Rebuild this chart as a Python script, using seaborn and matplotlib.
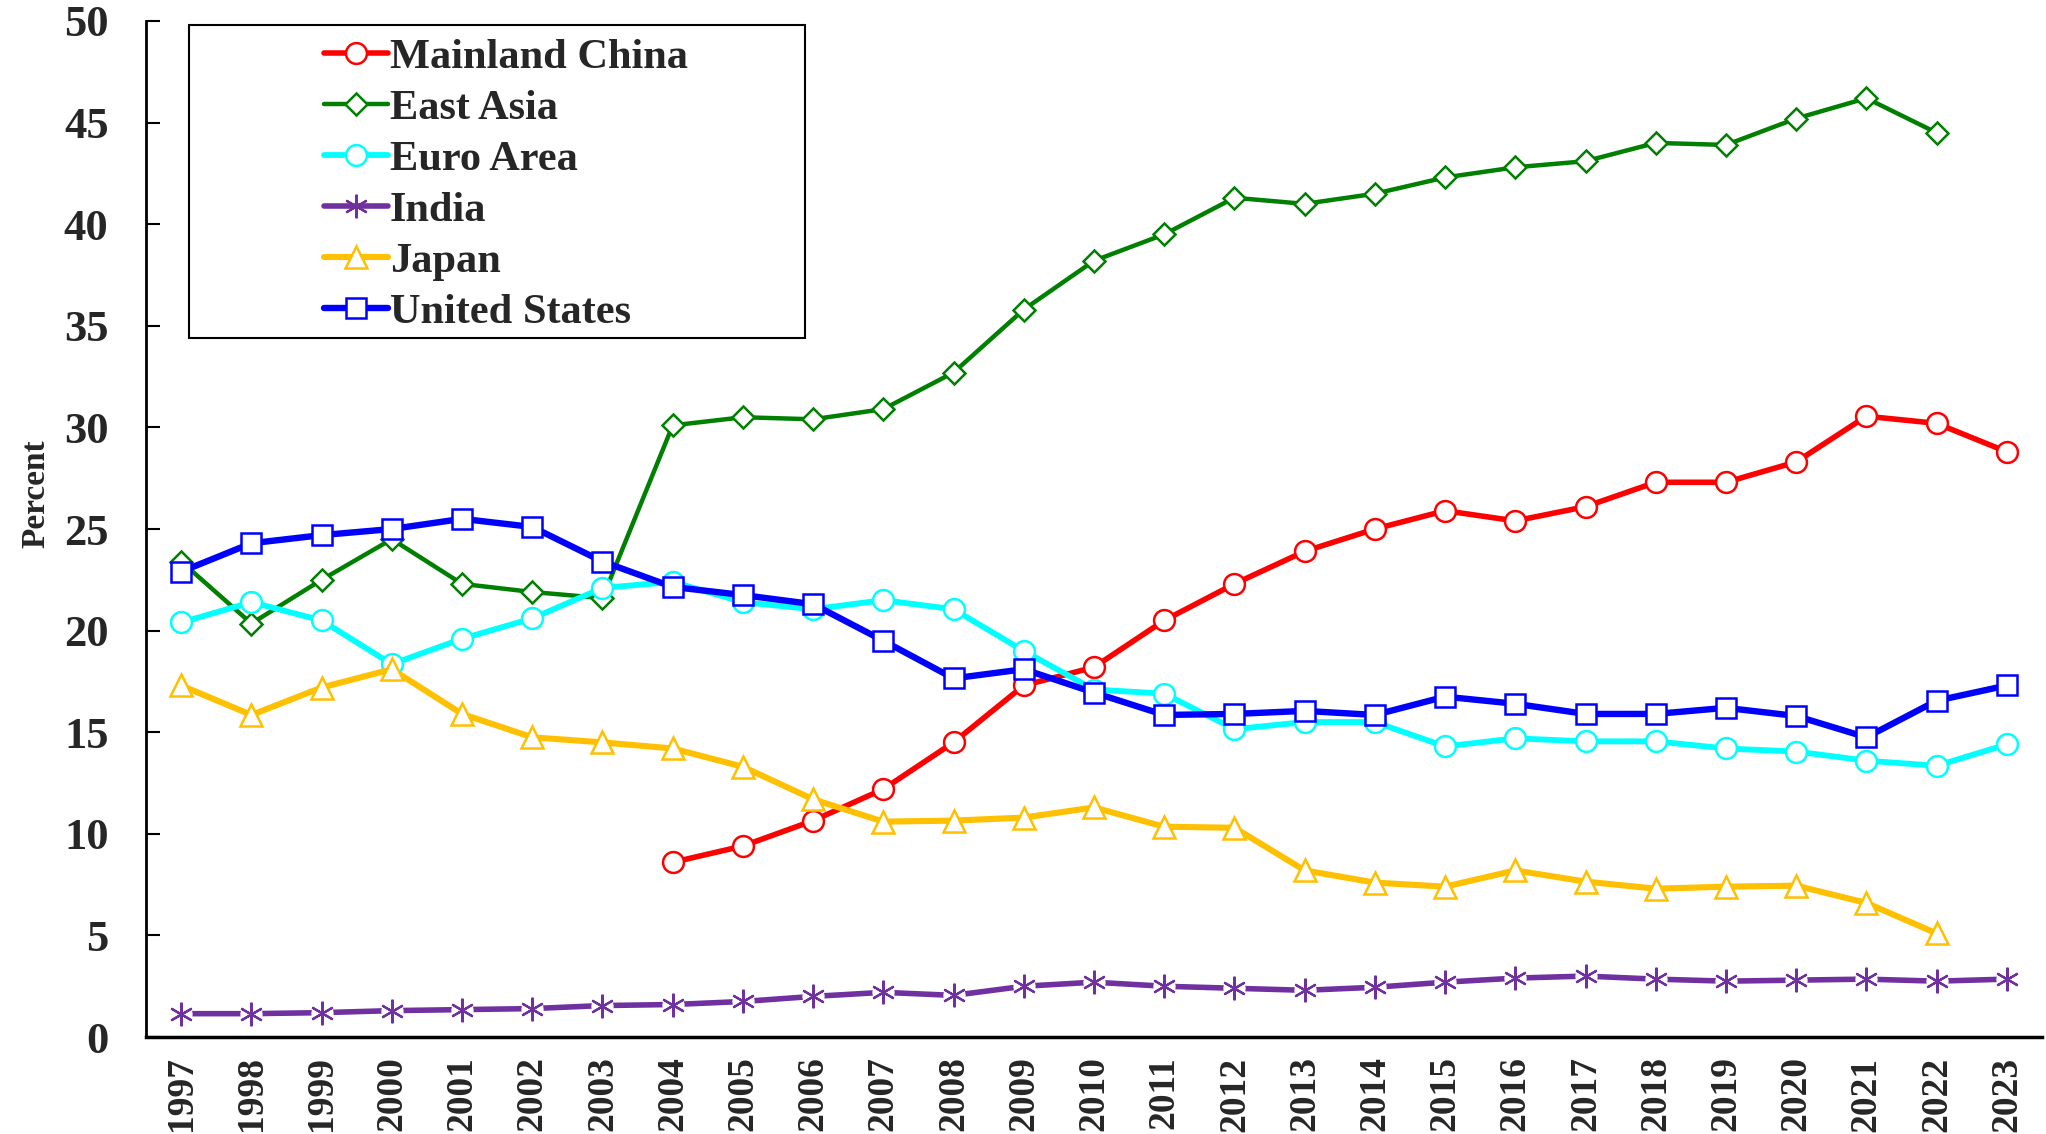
import matplotlib
matplotlib.use("Agg")
import matplotlib.pyplot as plt
import matplotlib.patches as mpatches
from matplotlib.lines import Line2D
import pandas as pd
import seaborn as sns

years = list(range(1997, 2024))

mainland_china = [None] * 7 + [8.6, 9.4, 10.65, 12.2, 14.5, 17.3, 18.2, 20.5, 22.3, 23.9,
                               25.0, 25.9, 25.4, 26.1, 27.3, 27.3, 28.3, 30.55, 30.2, 28.8]
east_asia = [23.4, 20.35, 22.5, 24.5, 22.3, 21.9, 21.6, 30.1, 30.5, 30.4, 30.9, 32.7, 35.8,
             38.2, 39.5, 41.3, 41.0, 41.5, 42.3, 42.8, 43.1, 44.0, 43.9, 45.2, 46.2, 44.5, None]
euro_area = [20.4, 21.4, 20.5, 18.35, 19.6, 20.6, 22.1, 22.4, 21.4, 21.05, 21.5, 21.05, 19.0,
             17.1, 16.9, 15.15, 15.5, 15.5, 14.3, 14.7, 14.55, 14.55, 14.2, 14.05, 13.6, 13.35, 14.4]
india = [1.15, 1.15, 1.2, 1.3, 1.35, 1.4, 1.55, 1.6, 1.75, 2.0, 2.2, 2.05, 2.5, 2.7, 2.5,
         2.4, 2.3, 2.45, 2.7, 2.9, 3.0, 2.85, 2.75, 2.8, 2.85, 2.75, 2.85]
japan = [17.3, 15.85, 17.2, 18.1, 15.9, 14.75, 14.5, 14.2, 13.3, 11.7, 10.6, 10.65, 10.8,
         11.3, 10.35, 10.3, 8.2, 7.6, 7.4, 8.2, 7.65, 7.3, 7.4, 7.45, 6.6, 5.1, None]
united_states = [22.9, 24.3, 24.7, 25.0, 25.5, 25.1, 23.4, 22.15, 21.75, 21.3, 19.5, 17.65,
                 18.1, 16.95, 15.85, 15.9, 16.05, 15.85, 16.75, 16.4, 15.9, 15.9, 16.2, 15.8,
                 14.75, 16.55, 17.3]

names = ["Mainland China", "East Asia", "Euro Area", "India", "Japan", "United States"]
colors = ["#FF0000", "#008000", "#00FFFF", "#7030A0", "#FFC000", "#0000FF"]
markers = ["o", "D", "o", (6, 2, 0), "^", "s"]
sizes = [15, 11, 15, 17, 16, 15]
widths = [4.0, 3.2, 4.2, 4.0, 4.4, 4.6]

df = pd.DataFrame({"year": years, "Mainland China": mainland_china, "East Asia": east_asia,
                   "Euro Area": euro_area, "India": india, "Japan": japan,
                   "United States": united_states})

sns.set_style("white")
plt.rcParams["font.family"] = ["Liberation Serif", "DejaVu Serif"]
plt.rcParams["font.weight"] = "bold"

fig = plt.figure(figsize=(20.46, 11.34), dpi=100)
ax = fig.add_axes([0.0714, 0.0855, 0.9266, 0.896])

handles = []
for name, c, m, s, w in zip(names, colors, markers, sizes, widths):
    d = df[["year", name]].dropna()
    if name == "India":
        # white gap behind the asterisks, like the original
        ax.plot(d["year"], d[name], ls="", marker="o", ms=15, mfc="white", mec="white", zorder=3)
        sns.lineplot(data=d, x="year", y=name, ax=ax, color=c, lw=w, zorder=2)
        ax.plot(d["year"], d[name], ls="", marker=m, ms=s, mec=c, mew=1.6, zorder=4)
        handles.append(Line2D([], [], color=c, lw=w, marker=m, ms=s, mec=c, mew=1.6))
    else:
        sns.lineplot(data=d, x="year", y=name, ax=ax, color=c, lw=w, marker=m, ms=s,
                     mfc="white", mec=c, mew=1.8, zorder=3)
        handles.append(Line2D([], [], color=c, lw=w, marker=m, ms=s, mfc="white",
                              mec=c, mew=1.8))

ax.set_xlim(1996.5, 2023.5)
ax.set_ylim(0, 50)
ax.set_xticks(years)
ax.set_xticklabels([str(y) for y in years], rotation=90, fontsize=27, fontweight="bold")
ax.set_xticks([y + 0.5 for y in years], minor=True)
ax.tick_params(axis="x", which="major", length=0, pad=14)
ax.tick_params(axis="x", which="minor", direction="in", length=10, width=1.5, color="black")
ax.set_yticks(range(0, 51, 5))
ax.set_yticklabels([str(v) for v in range(0, 51, 5)], fontsize=32, fontweight="bold")
ax.tick_params(axis="y", direction="in", length=10, width=1.5, color="black", pad=27, left=True)

ax.set_xlabel("")
ax.set_ylabel("Percent", fontsize=24, fontweight="bold")
ax.yaxis.set_label_coords(-0.05, 0.535)

for side in ["top", "right"]:
    ax.spines[side].set_visible(False)
ax.spines["left"].set_color("black")
ax.spines["bottom"].set_color("black")
ax.spines["left"].set_linewidth(2)
ax.spines["bottom"].set_linewidth(2.5)

leg = ax.legend(handles, names, loc="upper left", bbox_to_anchor=(0.148, 0.985),
                bbox_transform=fig.transFigure, frameon=False, fontsize=30.5,
                handlelength=1.5, handletextpad=0.05, labelspacing=0.29, borderpad=0)
for t in leg.get_texts():
    t.set_fontweight("bold")

fig.patches.append(mpatches.Rectangle((0.0924, 0.702), 0.301, 0.276, transform=fig.transFigure,
                                      fill=False, edgecolor="black", linewidth=1.5))

fig.savefig("out.png", dpi=100)
